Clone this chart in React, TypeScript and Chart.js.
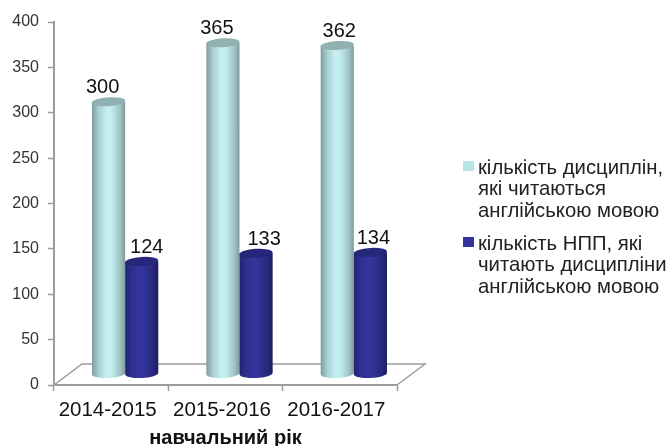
import React, { useEffect, useRef } from "react";
import { Chart, registerables } from "chart.js";

Chart.register(...registerables);

const categories = ["2014-2015", "2015-2016", "2016-2017"];
const disciplines = [300, 365, 362];
const teachers = [124, 133, 134];
const disciplinesLegend = ["кількість дисциплін,", "які читаються", "англійською мовою"];
const teachersLegend = ["кількість НПП, які", "читають дисципліни", "англійською мовою"];
const axisTitle = "навчальний рік";
const yTicks = { min: 0, max: 400, step: 50 };

const DEPTH_X = 14;
const DEPTH_Y = 11;
const FONT = "'Liberation Sans', Arial, sans-serif";
const AXIS = "#9c9c9c";

const looks = [
  { stops: ["#7f9c9e", "#a9cfd1", "#c6f1f3", "#c0ecee", "#9fc3c5", "#7e9b9d"], top: "#90b0b2", swatch: "#b9e4e6", nudge: [-6, -6, 2] },
  { stops: ["#23236f", "#2f2f8f", "#34349c", "#323296", "#28287c", "#1c1c5c"], top: "#26267a", swatch: "#333399", nudge: [5, 8, 3] },
];

const cylinders = {
  id: "cylinders",
  beforeDatasetsDraw(chart: any) {
    const { ctx, chartArea: a } = chart;
    ctx.save();
    ctx.strokeStyle = AXIS;
    ctx.lineWidth = 1.5;
    ctx.beginPath();
    ctx.moveTo(a.left, a.bottom);
    ctx.lineTo(a.left + 28, a.bottom - 21);
    ctx.lineTo(a.right + 28, a.bottom - 21);
    ctx.lineTo(a.right, a.bottom);
    ctx.stroke();

    chart.data.datasets.forEach((_: any, di: number) => {
      const look = looks[di];
      chart.getDatasetMeta(di).data.forEach((el: any) => {
        const x0 = el.x - el.width / 2 + DEPTH_X;
        const x1 = el.x + el.width / 2 + DEPTH_X;
        const top = el.y - DEPTH_Y;
        const base = el.base - DEPTH_Y;
        const rx = (x1 - x0) / 2;
        const g = ctx.createLinearGradient(x0, 0, x1, 0);
        const n = look.stops.length - 1;
        look.stops.forEach((c: string, i: number) => g.addColorStop([0, 0.2, 0.45, 0.6, 0.85, 1][i] ?? i / n, c));
        ctx.fillStyle = g;
        ctx.beginPath();
        ctx.moveTo(x0, top);
        ctx.lineTo(x0, base);
        ctx.ellipse(x0 + rx, base, rx, 4.5, -0.04, Math.PI, 0, true);
        ctx.lineTo(x1, top);
        ctx.closePath();
        ctx.fill();
        ctx.fillStyle = look.top;
        ctx.beginPath();
        ctx.ellipse(x0 + rx, top, rx, 4.5, -0.06, 0, Math.PI * 2);
        ctx.fill();
      });
    });
    ctx.restore();
    return false;
  },
  afterDraw(chart: any) {
    const { ctx } = chart;
    ctx.save();
    ctx.textAlign = "center";
    ctx.textBaseline = "middle";
    ctx.font = `20px ${FONT}`;
    ctx.fillStyle = "#111111";
    chart.data.datasets.forEach((ds: any, di: number) => {
      chart.getDatasetMeta(di).data.forEach((el: any, i: number) => {
        ctx.fillText(String(ds.data[i]), el.x + DEPTH_X + looks[di].nudge[i], el.y - DEPTH_Y - 14);
      });
    });

    ctx.textAlign = "left";
    ctx.font = `20.3px ${FONT}`;
    [disciplinesLegend, teachersLegend].forEach((lines, di) => {
      const y0 = di === 0 ? 168 : 244;
      ctx.fillStyle = looks[di].swatch;
      ctx.fillRect(463, y0 - 7, 11, 10);
      ctx.fillStyle = "#222222";
      lines.forEach((t, i) => ctx.fillText(t, 478, y0 + i * 21.8));
    });
    ctx.restore();
  },
};

export default function App() {
  const ref = useRef<HTMLCanvasElement>(null);
  useEffect(() => {
    const chart = new Chart(ref.current as HTMLCanvasElement, {
      type: "bar",
      data: {
        labels: categories,
        datasets: [
          { label: disciplinesLegend.join(" "), data: disciplines, backgroundColor: looks[0].swatch },
          { label: teachersLegend.join(" "), data: teachers, backgroundColor: looks[1].swatch },
        ],
      },
      plugins: [cylinders],
      options: {
        animation: false,
        responsive: false,
        layout: { padding: { left: 0, top: 22, right: 273, bottom: 0 } },
        plugins: { legend: { display: false }, tooltip: { enabled: false }, title: { display: false } },
        datasets: { bar: { categoryPercentage: 0.58, barPercentage: 1 } },
        scales: {
          x: {
            afterFit: (s: any) => { s.height = 61; },
            border: { color: AXIS, width: 2 },
            grid: { drawOnChartArea: false, drawTicks: true, tickLength: 6, tickColor: AXIS, tickWidth: 1.5 },
            ticks: { color: "#111111", font: { family: FONT, size: 20.5 }, padding: 7, maxRotation: 0, labelOffset: -3.5 },
            title: { display: true, text: axisTitle, color: "#111111", font: { family: FONT, size: 20, weight: "bold" }, padding: { top: 1, bottom: -4 } },
          },
          y: {
            min: yTicks.min,
            max: yTicks.max,
            afterFit: (s: any) => { s.width = 54; },
            border: { color: AXIS, width: 2 },
            grid: { drawOnChartArea: false, drawTicks: true, tickLength: 6, tickColor: AXIS, tickWidth: 1.5 },
            ticks: { stepSize: yTicks.step, color: "#333333", font: { family: FONT, size: 16 }, padding: 9 },
          },
        },
      },
    } as any);
    return () => chart.destroy();
  }, []);
  return (
    <div style={{ position: "absolute", left: 0, top: 0, width: 670, height: 446, background: "#fff", overflow: "hidden" }}>
      <canvas ref={ref} width={670} height={446} style={{ display: "block" }} />
    </div>
  );
}
